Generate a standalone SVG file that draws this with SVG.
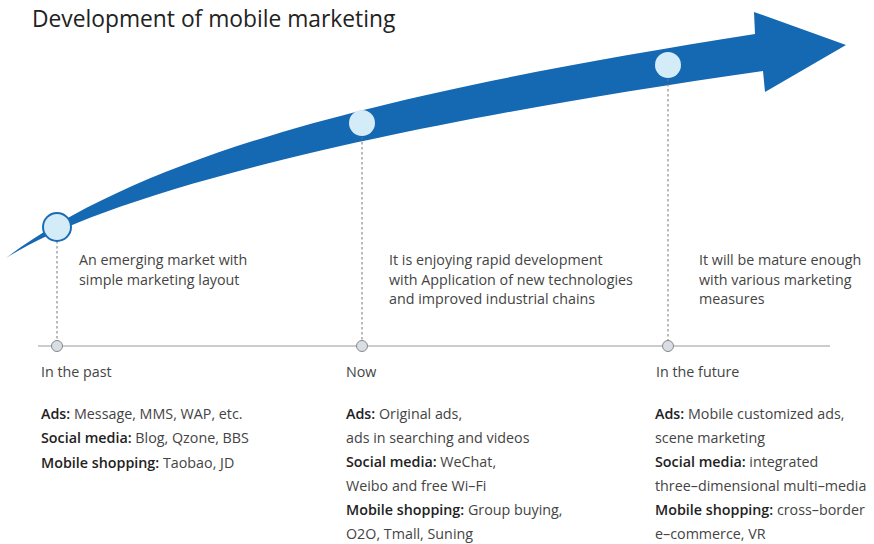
<svg xmlns="http://www.w3.org/2000/svg" width="874" height="544" viewBox="0 0 874 544">
<style>
text{font-family:"Open Sans","Noto Sans","DejaVu Sans",sans-serif;}
.t{font-size:14.3px;fill:#444;}
.b{font-weight:600;fill:#222;}
.dash{stroke:#777;stroke-width:1;stroke-dasharray:2.5,2.5;fill:none;}
.tick{fill:#d9dee5;stroke:#888;stroke-width:1;}
.dot{fill:#d4ebf8;}
</style>
<rect width="874" height="544" fill="#fff"/>
<text x="32" y="27" style="font-size:22.8px;fill:#222">Development of mobile marketing</text>
<g id="arrow">
<path d="M6,258 C150,150 400,90 755,34 L754,12 L846,45 L765,92 L763,71 C350,130 100,198 6,258 Z" fill="#1568b2"/>
</g>
<g id="connectors">
<line class="dash" x1="57" y1="241" x2="57" y2="344"/>
<line class="dash" x1="362" y1="137" x2="362" y2="344"/>
<line class="dash" x1="668" y1="79" x2="668" y2="344"/>
<line x1="38" y1="346" x2="830" y2="346" stroke="#999" stroke-width="1"/>
</g>
<g id="past">
<circle class="dot" cx="57" cy="227" r="14" stroke="#1a6cb5" stroke-width="2"/>
<circle class="tick" cx="57" cy="346" r="5.5"/>
<text class="t" x="79" y="265">An emerging market with</text>
<text class="t" x="79" y="285">simple marketing layout</text>
<text class="t" x="41" y="377">In the past</text>
<text class="t" x="41" y="419"><tspan class="b">Ads:</tspan> Message, MMS, WAP, etc.</text>
<text class="t" x="41" y="443"><tspan class="b">Social media:</tspan> Blog, Qzone, BBS</text>
<text class="t" x="41" y="468"><tspan class="b">Mobile shopping:</tspan> Taobao, JD</text>
</g>
<g id="now">
<circle class="dot" cx="362" cy="123" r="13"/>
<circle class="tick" cx="362" cy="346" r="5.5"/>
<text class="t" x="389" y="265">It is enjoying rapid development</text>
<text class="t" x="389" y="285">with Application of new technologies</text>
<text class="t" x="389" y="304">and improved industrial chains</text>
<text class="t" x="346" y="377">Now</text>
<text class="t" x="346" y="419"><tspan class="b">Ads:</tspan> Original ads,</text>
<text class="t" x="346" y="443">ads in searching and videos</text>
<text class="t" x="346" y="467"><tspan class="b">Social media:</tspan> WeChat,</text>
<text class="t" x="346" y="491">Weibo and free Wi–Fi</text>
<text class="t" x="346" y="515"><tspan class="b">Mobile shopping:</tspan> Group buying,</text>
<text class="t" x="346" y="539"> O2O, Tmall, Suning</text>
</g>
<g id="future">
<circle class="dot" cx="668" cy="65" r="13"/>
<circle class="tick" cx="668" cy="346" r="5.5"/>
<text class="t" x="699" y="265">It will be mature enough</text>
<text class="t" x="699" y="285">with various marketing</text>
<text class="t" x="699" y="304">measures</text>
<text class="t" x="656" y="377">In the future</text>
<text class="t" x="655" y="419"><tspan class="b">Ads:</tspan> Mobile customized ads,</text>
<text class="t" x="655" y="443">scene marketing</text>
<text class="t" x="655" y="467"><tspan class="b">Social media:</tspan> integrated</text>
<text class="t" x="655" y="491">three–dimensional multi–media</text>
<text class="t" x="655" y="515"><tspan class="b">Mobile shopping:</tspan> cross–border</text>
<text class="t" x="655" y="539">e–commerce, VR</text>
</g>
</svg>
